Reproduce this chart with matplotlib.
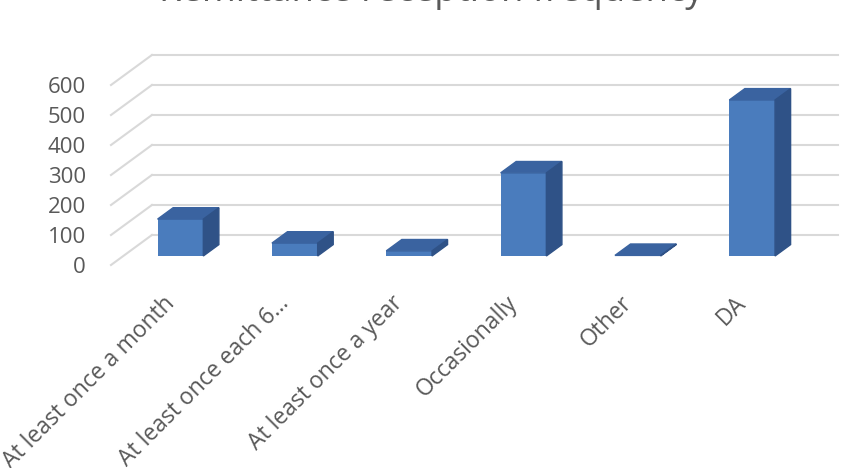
import numpy as np
import matplotlib
matplotlib.use("Agg")
import matplotlib.pyplot as plt
from matplotlib.patches import Polygon

categories = ["At least once a month", "At least once each 6\u2026", "At least once a year",
              "Occasionally", "Other", "DA"]
values = [123, 43, 17, 277, 2, 520]
yticks = [0, 100, 200, 300, 400, 500, 600]
title = "Remittance reception frequency"

plt.rcParams["font.family"] = ["Open Sans", "DejaVu Sans"]
txt = "#595959"
grid = "#d9d9d9"

# oblique projection: full depth shifts x by ddx (category units) and y by ddy (value units)
ddx, ddy = 0.358, 100
bar_d0, bar_d1 = 0.30, 0.68
bw = 0.40

fig = plt.figure(figsize=(8.46, 4.68), dpi=100)
ax = fig.add_axes([111 / 846, (468 - 265) / 468, 727 / 846, 210 / 468])
ax.set_xlim(-0.5, 5.5 + ddx)
ax.set_ylim(0, 700)
for s in ax.spines.values():
    s.set_visible(False)

# left wall diagonals and back wall gridlines
for t in yticks:
    ax.plot([-0.5, -0.5 + ddx], [t, t + ddy], color=grid, lw=1.5, clip_on=False, zorder=1)
    ax.plot([-0.5 + ddx, 5.5 + ddx], [t + ddy, t + ddy], color=grid, lw=1.5, clip_on=False, zorder=1)

front_c, top_c, side_c = "#4a7cbd", "#3a63a0", "#2f5287"
sx0, sy0 = bar_d0 * ddx, bar_d0 * ddy
sx1, sy1 = (bar_d1 - bar_d0) * ddx, (bar_d1 - bar_d0) * ddy
x = np.arange(len(categories))
ax.bar(x - bw / 2 + sx0, values, width=bw, bottom=sy0, align="edge", color=front_c, zorder=3)
for xi, v in zip(x, values):
    l, r = xi - bw / 2 + sx0, xi + bw / 2 + sx0
    b, t = sy0, sy0 + v
    ax.add_patch(Polygon([[l, t], [r, t], [r + sx1, t + sy1], [l + sx1, t + sy1]],
                         closed=True, color=top_c, zorder=3))
    ax.add_patch(Polygon([[r, b], [r + sx1, b + sy1], [r + sx1, t + sy1], [r, t]],
                         closed=True, color=side_c, zorder=3))

ax.set_yticks(yticks)
ax.set_yticklabels([str(t) for t in yticks], fontsize=16, color=txt)
ax.set_xticks(x - 0.05)
ax.set_xticklabels(categories, rotation=45, ha="right", rotation_mode="anchor",
                   fontsize=16.5, color=txt)
ax.tick_params(axis="y", length=0, pad=18)
ax.tick_params(axis="x", length=0, pad=19)

fig.text(431 / 846, 1 - 1.5 / 468, title, ha="center", va="baseline", fontsize=26.3, color=txt)

fig.savefig("out.png", dpi=100)
